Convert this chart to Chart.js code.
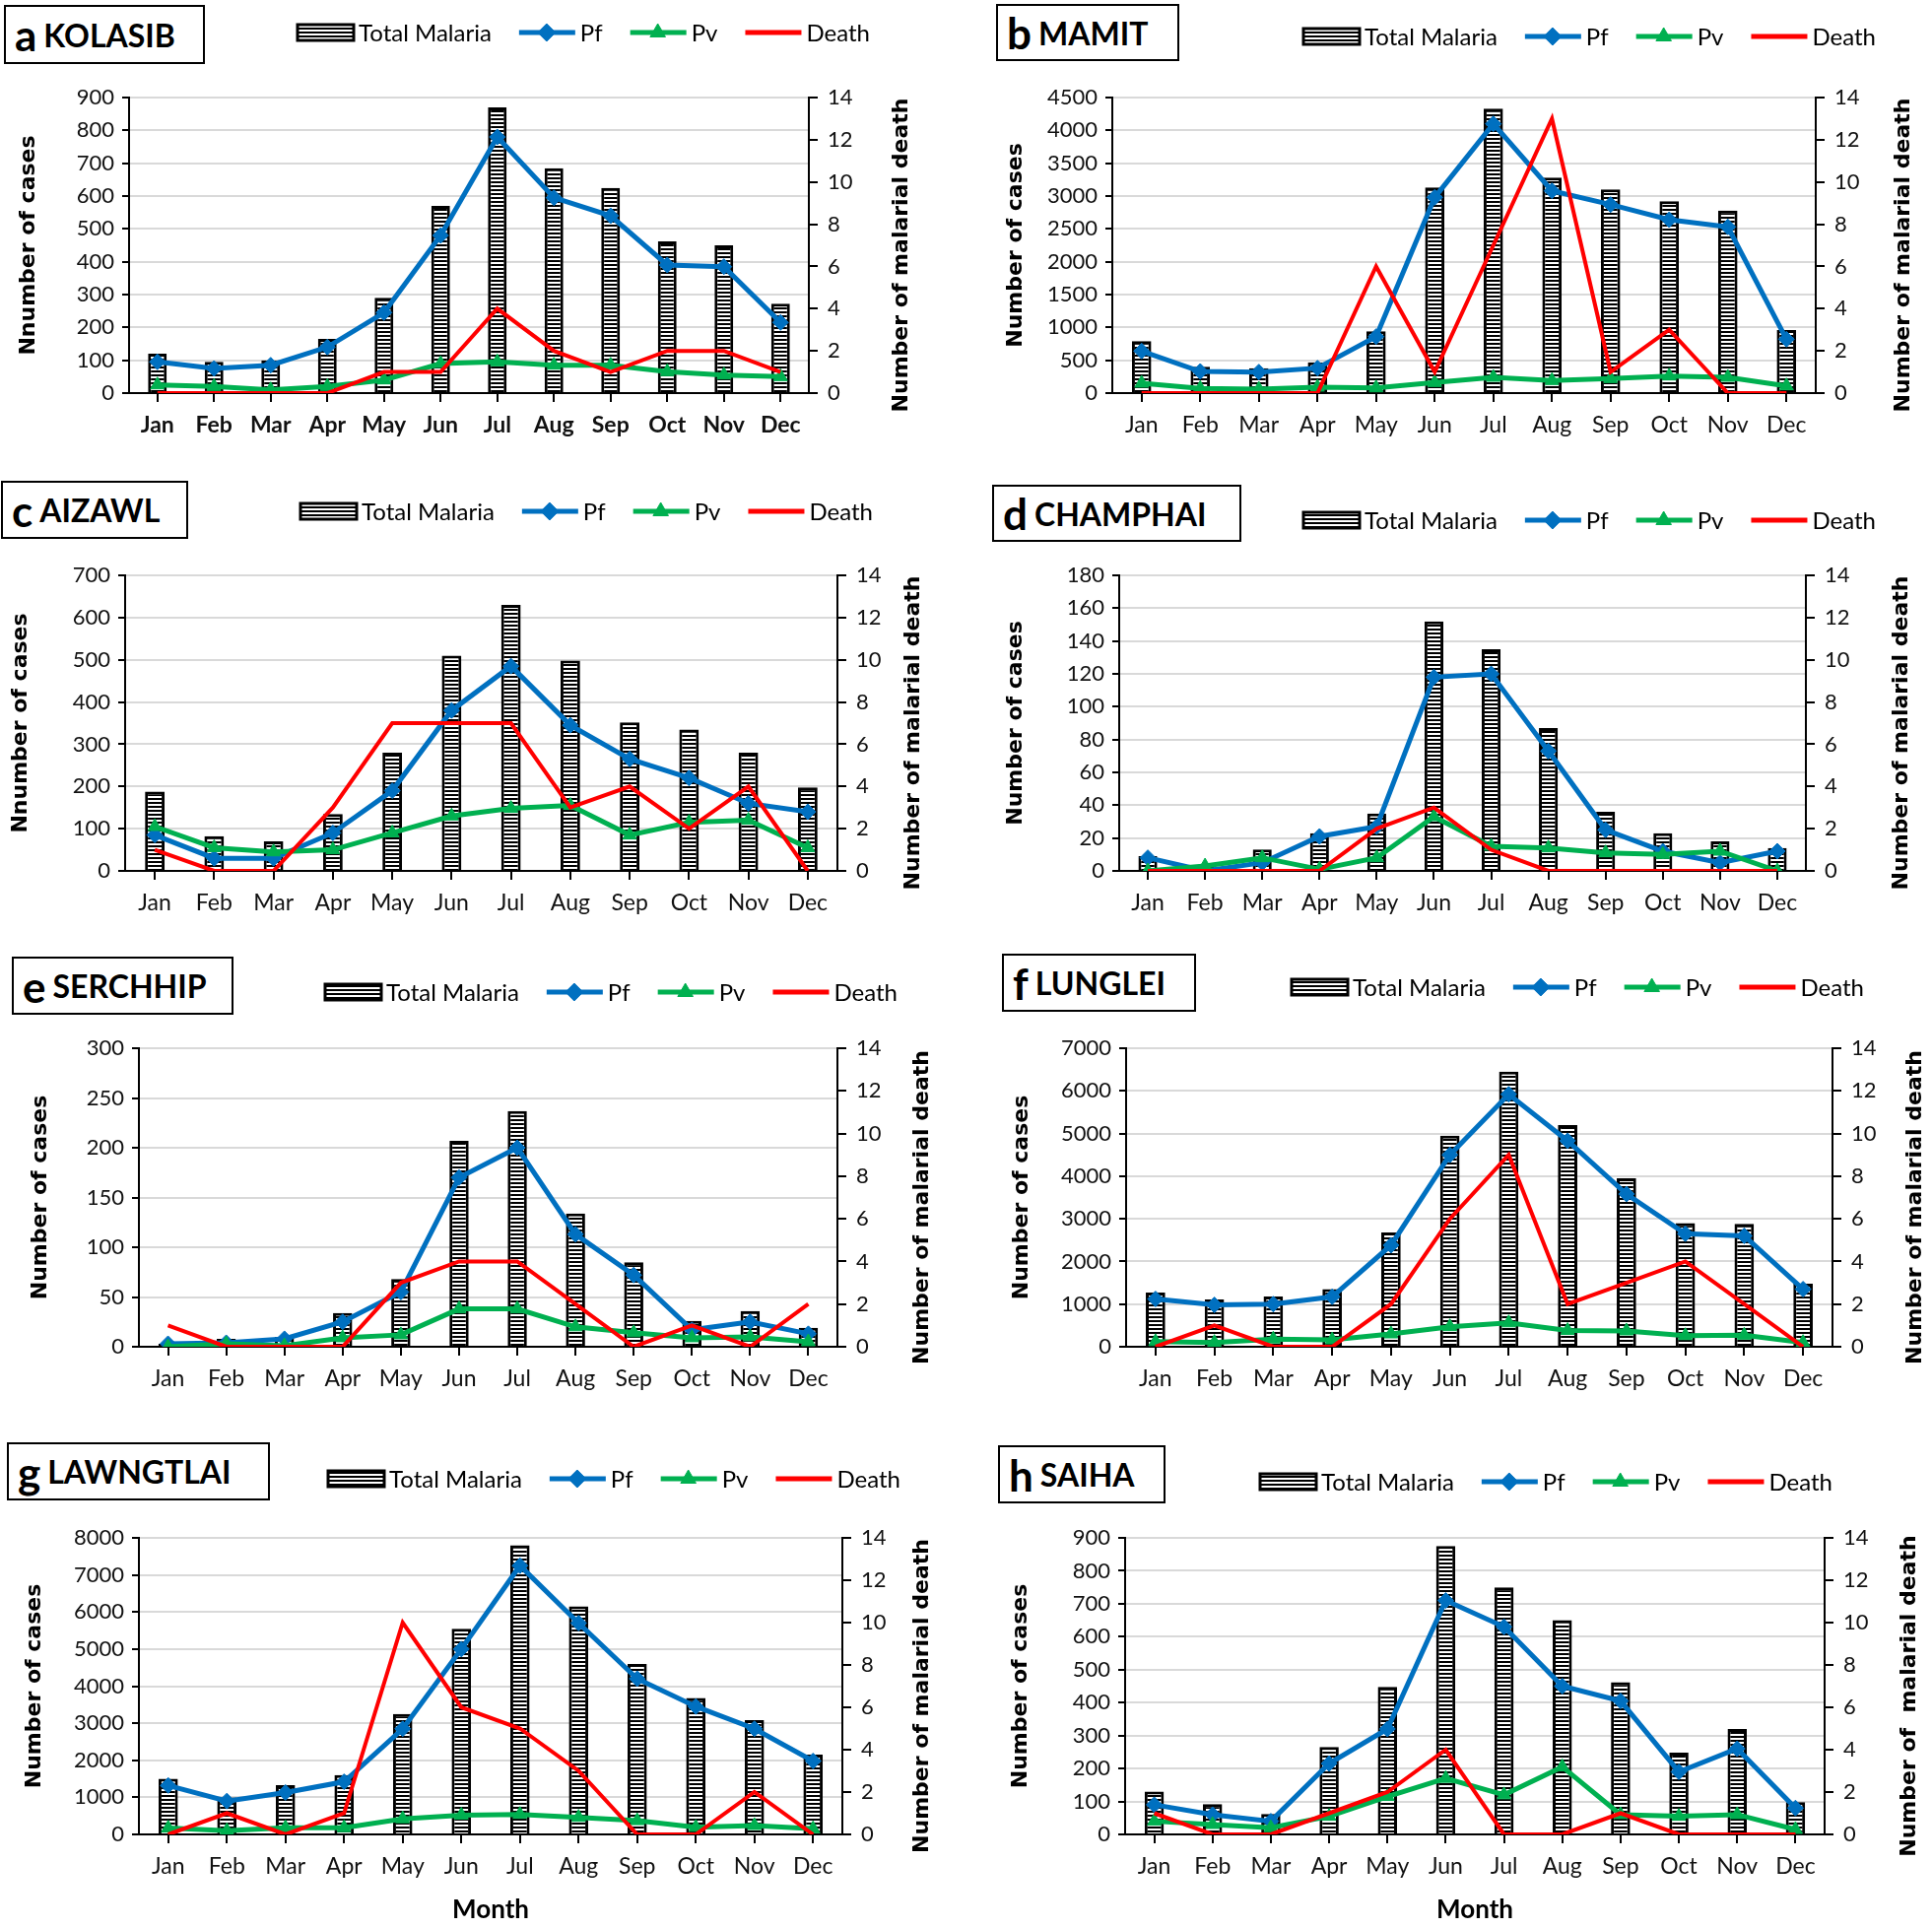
<!DOCTYPE html>
<html>
<head>
<meta charset="utf-8">
<script src="https://cdn.jsdelivr.net/npm/chart.js@4.4.0/dist/chart.umd.min.js"></script>
<style>
body { margin:0; background:#fff; width:1961px; height:1957px; position:relative; overflow:hidden; }
canvas { position:absolute; }
.box { position:absolute; border:2px solid #000; box-sizing:border-box; background:#fff;
       font-family:Lato, sans-serif; font-weight:bold; display:flex; align-items:center;
       padding-left:9px; white-space:nowrap; z-index:2; }
.box .l { font-size:44px; margin-right:7px; }
.box .n { font-size:32px; }
</style>
</head>
<body>
<script>
var months = ['Jan','Feb','Mar','Apr','May','Jun','Jul','Aug','Sep','Oct','Nov','Dec'];

// a KOLASIB
var kolasibTotal = [120, 95, 100, 165, 290, 570, 870, 685, 625, 462, 450, 272];
var kolasibPf    = [95, 75, 85, 140, 245, 480, 780, 595, 540, 390, 385, 215];
var kolasibPv    = [25, 20, 10, 20, 40, 90, 95, 85, 85, 65, 55, 50];
var kolasibDeath = [0, 0, 0, 0, 1, 1, 4, 2, 1, 2, 2, 1];

// b MAMIT
var mamitTotal = [790, 400, 380, 470, 940, 3130, 4330, 3280, 3100, 2920, 2780, 960];
var mamitPf    = [640, 330, 320, 380, 860, 2980, 4100, 3080, 2870, 2640, 2530, 820];
var mamitPv    = [150, 70, 60, 90, 80, 160, 240, 190, 220, 260, 240, 110];
var mamitDeath = [0, 0, 0, 0, 6, 1, 7, 13, 1, 3, 0, 0];

// c AIZAWL
var aizawlTotal = [188, 82, 70, 135, 280, 510, 630, 498, 352, 335, 280, 198];
var aizawlPf    = [85, 30, 30, 90, 190, 380, 485, 345, 265, 220, 160, 140];
var aizawlPv    = [105, 55, 45, 50, 90, 130, 148, 155, 85, 115, 120, 55];
var aizawlDeath = [1, 0, 0, 3, 7, 7, 7, 3, 4, 2, 4, 0];

// d CHAMPHAI
var champhaiTotal = [9, 3, 13, 23, 35, 152, 135, 87, 36, 23, 18, 14];
var champhaiPf    = [8, 0, 5, 21, 27, 118, 120, 73, 25, 12, 5, 12];
var champhaiPv    = [0, 3, 8, 1, 8, 33, 15, 14, 11, 10, 12, 0];
var champhaiDeath = [0, 0, 0, 0, 2, 3, 1, 0, 0, 0, 0, 0];

// e SERCHHIP
var serchhipTotal = [3, 8, 10, 34, 68, 207, 237, 134, 85, 26, 36, 19];
var serchhipPf    = [3, 4, 8, 25, 55, 170, 200, 113, 72, 17, 25, 13];
var serchhipPv    = [0, 3, 1, 9, 12, 38, 38, 20, 14, 9, 10, 5];
var serchhipDeath = [1, 0, 0, 0, 3, 4, 4, 2, 0, 1, 0, 2];

// f LUNGLEI
var lungleiTotal = [1270, 1110, 1180, 1350, 2680, 4950, 6450, 5200, 3950, 2900, 2880, 1480];
var lungleiPf    = [1120, 980, 1000, 1170, 2380, 4500, 5920, 4830, 3580, 2650, 2600, 1350];
var lungleiPv    = [120, 100, 180, 160, 300, 470, 560, 380, 370, 260, 270, 100];
var lungleiDeath = [0, 1, 0, 0, 2, 6, 9, 2, 3, 4, 2, 0];

// g LAWNGTLAI
var lawngtlaiTotal = [1500, 1000, 1330, 1600, 3250, 5550, 7800, 6150, 4600, 3680, 3080, 2150];
var lawngtlaiPf    = [1320, 900, 1130, 1420, 2850, 5000, 7250, 5700, 4200, 3450, 2850, 1980];
var lawngtlaiPv    = [170, 100, 180, 180, 420, 520, 540, 460, 370, 190, 240, 150];
var lawngtlaiDeath = [0, 1, 0, 1, 10, 6, 5, 3, 0, 0, 2, 0];

// h SAIHA
var saihaTotal = [130, 92, 62, 265, 448, 875, 750, 650, 462, 248, 320, 98];
var saihaPf    = [90, 60, 40, 215, 320, 710, 630, 450, 405, 190, 260, 80];
var saihaPv    = [40, 30, 20, 55, 115, 170, 120, 205, 60, 55, 60, 15];
var saihaDeath = [1, 0, 0, 1, 2, 4, 0, 0, 1, 0, 0, 0];

var deathMax = 14, deathStep = 2;

// hatched fill for the total bars
var pc = document.createElement('canvas');
pc.width = 8; pc.height = 4;
var pg = pc.getContext('2d');
pg.fillStyle = '#000'; pg.fillRect(0, 0, 8, 4);
pg.fillStyle = '#fff'; pg.fillRect(0, 2, 8, 2);
var stripes = pg.createPattern(pc, 'repeat');

// geometry of each panel, page pixels
var panels = [
  {tag:'a', name:'KOLASIB', total:kolasibTotal, pf:kolasibPf, pv:kolasibPv, death:kolasibDeath, yMax:900, yStep:100,
   yTitle:'Nnumber of cases', y2Title:'Number of malarial death', boldX:true,
   L:131, R:821, T:99, B:399, cy:0, ch:470, yt:29, y2t:915, lx:302, ly:33, box:[4,5,204,60]},
  {tag:'b', name:'MAMIT', total:mamitTotal, pf:mamitPf, pv:mamitPv, death:mamitDeath, yMax:4500, yStep:500,
   yTitle:'Number of cases', y2Title:'Number of malarial death',
   L:1129, R:1843, T:99, B:399, cy:0, ch:470, yt:1031, y2t:1932, lx:1323, ly:37, box:[1011,4,186,58]},
  {tag:'c', name:'AIZAWL', total:aizawlTotal, pf:aizawlPf, pv:aizawlPv, death:aizawlDeath, yMax:700, yStep:100,
   yTitle:'Nnumber of cases', y2Title:'Number of malarial death',
   L:127, R:850, T:584, B:884, cy:470, ch:490, yt:21, y2t:927, lx:305, ly:519, box:[1,488,190,59]},
  {tag:'d', name:'CHAMPHAI', total:champhaiTotal, pf:champhaiPf, pv:champhaiPv, death:champhaiDeath, yMax:180, yStep:20,
   yTitle:'Number of cases', y2Title:'Number of malarial death',
   L:1136, R:1833, T:584, B:884, cy:470, ch:490, yt:1031, y2t:1930, lx:1323, ly:528, box:[1007,492,253,58]},
  {tag:'e', name:'SERCHHIP', total:serchhipTotal, pf:serchhipPf, pv:serchhipPv, death:serchhipDeath, yMax:300, yStep:50,
   yTitle:'Number of cases', y2Title:'Number of malarial death',
   L:141, R:850, T:1064, B:1367, cy:960, ch:490, yt:41, y2t:936, lx:330, ly:1007, box:[12,971,225,59]},
  {tag:'f', name:'LUNGLEI', total:lungleiTotal, pf:lungleiPf, pv:lungleiPv, death:lungleiDeath, yMax:7000, yStep:1000,
   yTitle:'Number of cases', y2Title:'Number of malarial death',
   L:1143, R:1860, T:1064, B:1367, cy:960, ch:490, yt:1037, y2t:1944, lx:1311, ly:1002, box:[1017,968,197,59]},
  {tag:'g', name:'LAWNGTLAI', total:lawngtlaiTotal, pf:lawngtlaiPf, pv:lawngtlaiPv, death:lawngtlaiDeath, yMax:8000, yStep:1000,
   yTitle:'Number of cases', y2Title:'Number of malarial death', xTitle:'Month',
   L:141, R:855, T:1561, B:1862, cy:1450, ch:507, yt:35, y2t:936, lx:333, ly:1501, box:[7,1464,267,59]},
  {tag:'h', name:'SAIHA', total:saihaTotal, pf:saihaPf, pv:saihaPv, death:saihaDeath, yMax:900, yStep:100,
   yTitle:'Number of cases', y2Title:'Number of  malarial death', xTitle:'Month',
   L:1142, R:1852, T:1561, B:1862, cy:1450, ch:507, yt:1036, y2t:1938, lx:1279, ly:1504, box:[1013,1467,170,59]}
];

// legend + right axis title, drawn on the chart canvas
var panelDecor = {
  id: 'panelDecor',
  afterDraw: function(chart, args, o) {
    var ctx = chart.ctx;
    var x = o.lx, y = o.ly;
    ctx.save();
    ctx.font = '24px Lato';
    ctx.textBaseline = 'middle';
    chart.data.datasets.forEach(function(ds) {
      if (ds.type == 'bar') {
        ctx.fillStyle = ds.backgroundColor;
        ctx.fillRect(x, y - 8, 57, 16);
        ctx.strokeStyle = '#000';
        ctx.lineWidth = 3;
        ctx.strokeRect(x, y - 8, 57, 16);
      } else {
        ctx.strokeStyle = ds.borderColor;
        ctx.lineWidth = 5;
        ctx.beginPath();
        ctx.moveTo(x, y); ctx.lineTo(x + 57, y);
        ctx.stroke();
        if (ds.pointRadius > 0) {
          ctx.fillStyle = ds.backgroundColor;
          ctx.lineWidth = 1;
          Chart.helpers.drawPoint(ctx, {pointStyle: ds.pointStyle, radius: ds.pointRadius + 1, borderWidth: 1, rotation: 0}, x + 28, y);
        }
      }
      x += 62;
      ctx.fillStyle = '#000';
      ctx.fillText(ds.label, x, y + 1);
      x += ctx.measureText(ds.label).width + 28;
    });
    // right axis title, reading upward like the left one
    var a = chart.chartArea;
    ctx.translate(o.y2x, (a.top + a.bottom) / 2 + 10);
    ctx.rotate(-Math.PI / 2);
    ctx.textAlign = 'center';
    ctx.font = 'bold 22px "DejaVu Sans"';
    ctx.fillText(o.y2Title, 0, 0);
    ctx.restore();
  }
};

function makePanel(p) {
  var right = p.L > 980;
  var cx = right ? 985 : 0;
  var cw = right ? 976 : 975;
  var cv = document.createElement('canvas');
  cv.width = cw; cv.height = p.ch;
  cv.style.left = cx + 'px'; cv.style.top = p.cy + 'px';
  cv.style.width = cw + 'px'; cv.style.height = p.ch + 'px';
  document.body.appendChild(cv);

  var box = document.createElement('div');
  box.className = 'box';
  box.style.left = p.box[0] + 'px'; box.style.top = p.box[1] + 'px';
  box.style.width = p.box[2] + 'px'; box.style.height = p.box[3] + 'px';
  box.innerHTML = '<span class="l">' + p.tag + '</span><span class="n">' + p.name + '</span>';
  document.body.appendChild(box);

  new Chart(cv.getContext('2d'), {
    type: 'bar',
    data: {
      labels: months,
      datasets: [
        {type:'bar', label:'Total Malaria', data:p.total, backgroundColor:stripes, borderColor:'#000', borderWidth:3,
         barPercentage:0.33, categoryPercentage:1, yAxisID:'y', order:4},
        {type:'line', label:'Pf', data:p.pf, borderColor:'#0070C0', backgroundColor:'#0070C0', borderWidth:5,
         pointStyle:'rectRot', pointRadius:8, pointBorderWidth:1, yAxisID:'y', order:3},
        {type:'line', label:'Pv', data:p.pv, borderColor:'#00B050', backgroundColor:'#00B050', borderWidth:5,
         pointStyle:'triangle', pointRadius:8, pointBorderWidth:1, yAxisID:'y', order:2},
        {type:'line', label:'Death', data:p.death, borderColor:'#FF0000', backgroundColor:'#FF0000', borderWidth:4,
         pointRadius:0, yAxisID:'y2', order:1}
      ]
    },
    options: {
      responsive: false,
      animation: false,
      devicePixelRatio: 1,
      layout: {padding: {top: p.T - p.cy, left: 0, right: 0, bottom: 0}},
      plugins: {
        legend: {display: false},
        tooltip: {enabled: false},
        panelDecor: {lx: p.lx - cx, ly: p.ly - p.cy, y2x: p.y2t - cx, y2Title: p.y2Title}
      },
      scales: {
        x: {
          grid: {drawOnChartArea:false, offset:false, tickLength:9, color:'#000', lineWidth:2},
          border: {color:'#000', width:2},
          ticks: {color:'#111', padding:10, font:{family:'Lato', size:23, weight: p.boldX ? 'bold' : 'normal'}},
          title: {display: !!p.xTitle, text: p.xTitle || '', color:'#000', font:{family:'Lato', size:26, weight:'bold'}, padding:{bottom:3}},
          afterFit: function(s) { s.height = p.cy + p.ch - p.B; }
        },
        y: {
          position: 'left', min: 0, max: p.yMax,
          grid: {color:'#d9d9d9', lineWidth:2, tickLength:7, tickColor:'#000'},
          border: {color:'#000', width:2},
          ticks: {stepSize: p.yStep, color:'#111', padding:8, font:{family:'Lato', size:22}, format:{useGrouping:false}},
          title: {display:true, text:p.yTitle, color:'#000', font:{family:'DejaVu Sans', size:22, weight:'bold'},
                  padding:{top: p.yt - cx - 13, bottom: 0}},
          afterFit: function(s) { s.width = p.L - cx; }
        },
        y2: {
          position: 'right', min: 0, max: deathMax,
          grid: {drawOnChartArea:false, tickLength:9, color:'#000', lineWidth:2},
          border: {color:'#000', width:2},
          ticks: {stepSize: deathStep, color:'#111', padding:10, font:{family:'Lato', size:22}},
          afterFit: function(s) { s.width = cx + cw - p.R; }
        }
      }
    },
    plugins: [panelDecor]
  });
}

panels.forEach(makePanel);
</script>
</body>
</html>
